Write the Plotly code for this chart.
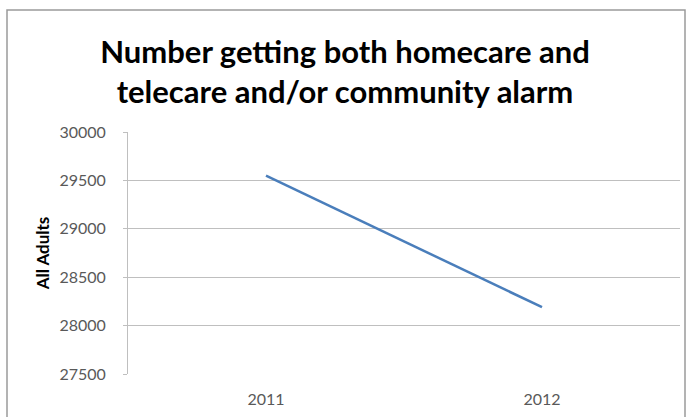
import plotly.graph_objects as go

years = ["2011", "2012"]
all_adults = [29550, 28190]
y_ticks = [27500, 28000, 28500, 29000, 29500, 30000]

W, H = 689, 417
L, R, T, B = 128, 9, 132, 41
pw, ph = W - L - R, H - T - B


def px(x):
    return (x - L) / pw


def py(y):
    return (H - B - y) / ph


fig = go.Figure(
    go.Scatter(
        x=years,
        y=all_adults,
        mode="lines",
        line=dict(color="#4a7ebb", width=2.5),
        hoverinfo="x+y",
    )
)

fig.update_layout(
    width=W,
    height=H,
    margin=dict(l=L, r=R, t=T, b=B),
    paper_bgcolor="white",
    plot_bgcolor="white",
    showlegend=False,
    font=dict(family="Lato, Calibri, sans-serif", color="#595959", size=16),
    title=dict(
        text="Number getting both homecare and<br>telecare and/or community alarm",
        x=345 / W,
        xref="container",
        xanchor="center",
        y=(H - 63) / H,
        yref="container",
        yanchor="top",
        font=dict(family="Lato, Calibri, sans-serif", size=31, color="#000000", weight="bold"),
    ),
    xaxis=dict(
        type="category",
        range=[-0.5, 1.5],
        showgrid=False,
        showline=False,
        ticks="",
        tickfont=dict(size=16, color="#595959"),
        ticklabelstandoff=14,
    ),
    yaxis=dict(
        range=[27500, 30000],
        tickvals=y_ticks,
        ticktext=[str(v) for v in y_ticks],
        showgrid=True,
        gridcolor="#bfbfbf",
        gridwidth=1,
        showline=True,
        linecolor="#bfbfbf",
        linewidth=1,
        ticks="outside",
        ticklen=4,
        tickcolor="#bfbfbf",
        tickfont=dict(size=16, color="#595959"),
        ticklabelstandoff=14,
        zeroline=False,
        title=dict(
            text="All Adults",
            font=dict(size=17, color="#000000", weight="bold"),
            standoff=5,
        ),
    ),
)

# outer chart frame
fig.add_shape(
    type="rect",
    xref="paper",
    yref="paper",
    x0=px(7),
    x1=px(685),
    y0=py(420),
    y1=py(9),
    line=dict(color="#9a9a9a", width=1.5),
    fillcolor="rgba(0,0,0,0)",
    layer="below",
)

fig.write_html("out.html")
